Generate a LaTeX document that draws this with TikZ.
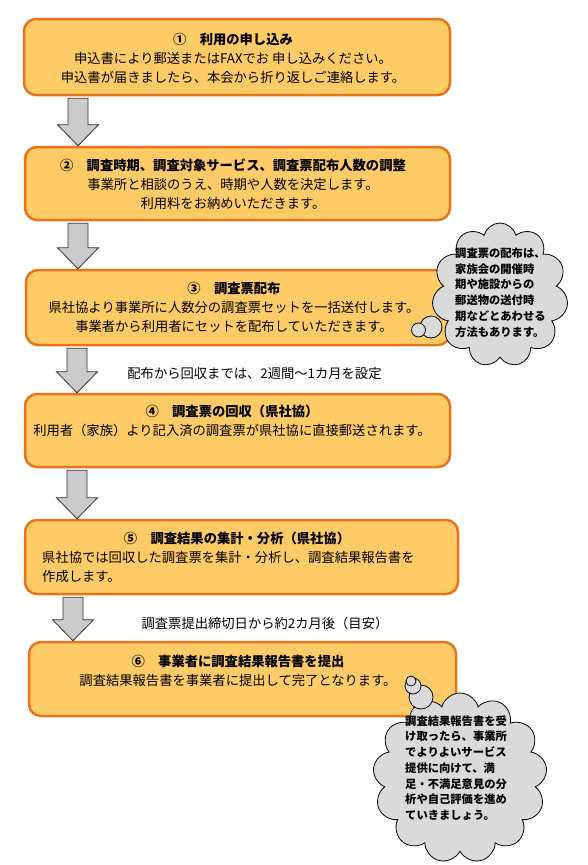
\documentclass[tikz,border=0pt]{standalone}
\usepackage{fontspec}
\setmainfont{Noto Sans CJK JP}
\usetikzlibrary{shapes.symbols,calc}
\definecolor{boxfill}{HTML}{FFCB66}
\definecolor{boxline}{HTML}{E8731A}
\definecolor{cloudfill}{HTML}{DADADA}
\definecolor{arrowfill}{HTML}{CBCBCB}
\tikzset{
  stepbox/.style={draw=boxline, fill=boxfill, line width=2.5pt, rounded corners=12pt, inner sep=0pt, rectangle},
  body/.style={font=\fontsize{13.3}{19}\selectfont, align=center, inner sep=0pt},
  bodyl/.style={font=\fontsize{13.3}{19}\selectfont, align=left, inner sep=0pt, anchor=west},
  ttl/.style={font=\bfseries\fontsize{13.3}{19}\selectfont, inner sep=0pt},
  gap/.style={font=\fontsize{13.3}{19}\selectfont, inner sep=0pt},
  note/.style={font=\bfseries\fontsize{11.3}{15.7}\selectfont, align=left, inner sep=0pt, anchor=west},
  thought/.style={cloud, draw=black, fill=cloudfill, line width=0.8pt, cloud ignores aspect, inner sep=0pt},
  bubble/.style={circle, draw=black, fill=cloudfill, line width=0.8pt, inner sep=0pt},
  blockarrow/.style={draw=black!80, fill=arrowfill, line width=0.8pt, line join=miter},
}
\newcommand\blockarr[3]{%
  \draw[blockarrow] let \p1=(#2.south), \p2=(#3.north) in
    (#1-10pt,\y1-2pt) -- (#1+10pt,\y1-2pt) -- (#1+10pt,\y2+21pt) -- (#1+20.5pt,\y2+21pt)
    -- (#1,\y2) -- (#1-20.5pt,\y2+21pt) -- (#1-10pt,\y2+21pt) -- cycle;}
\begin{document}
\begin{tikzpicture}[x=1pt,y=-1pt]
\useasboundingbox (0,0) rectangle (588,865);
% boxes
\node[stepbox, minimum width=426pt, minimum height=76pt] (b1) at (237,57) {};
\node[stepbox, minimum width=425pt, minimum height=73pt] (b2) at (237.5,183.5) {};
\node[stepbox, minimum width=424pt, minimum height=75pt] (b3) at (238,307.5) {};
\node[stepbox, minimum width=425pt, minimum height=73pt] (b4) at (237.5,430.5) {};
\node[stepbox, minimum width=433pt, minimum height=74pt] (b5) at (241.5,557) {};
\node[stepbox, minimum width=427pt, minimum height=74pt] (b6) at (242.5,679) {};
% texts in boxes
\node[body] (t1) at (233,58) {{\bfseries ①　利用の申し込み}\\申込書により郵送またはFAXでお 申し込みください。\\申込書が届きましたら、本会から折り返しご連絡します。};
\node[body] (t2) at (233,184) {{\bfseries ②　調査時期、調査対象サービス、調査票配布人数の調整}\\事業所と相談のうえ、時期や人数を決定します。\\利用料をお納めいただきます。};
\node[body] (t3) at (234,307) {{\bfseries ③　調査票配布}\\県社協より事業所に人数分の調査票セットを一括送付します。\\事業者から利用者にセットを配布していただきます。};
\node[body] (t4) at (232,420.5) {{\bfseries ④　調査票の回収（県社協）}\\利用者（家族）より記入済の調査票が県社協に直接郵送されます。};
\node[ttl] (t5a) at (237,538) {⑤　調査結果の集計・分析（県社協）};
\node[bodyl] (t5b) at (42,566.5) {県社協では回収した調査票を集計・分析し、調査結果報告書を\\作成します。};
\node[body] (t6) at (238,670.5) {{\bfseries ⑥　事業者に調査結果報告書を提出}\\調査結果報告書を事業者に提出して完了となります。};
% arrows
\blockarr{78pt}{b1}{b2}
\blockarr{78pt}{b2}{b3}
\blockarr{77pt}{b3}{b4}
\blockarr{77pt}{b4}{b5}
\blockarr{73pt}{b5}{b6}
% gap labels
\node[gap] (g1) at (254.5,373) {配布から回収までは、2週間〜1カ月を設定};
\node[gap] (g2) at (265,623) {調査票提出締切日から約2カ月後（目安）};
% cloud 1
\node[thought, cloud puffs=11, minimum width=136pt, minimum height=144pt] (c1) at (500,295) {};
\node[bubble, minimum size=22pt] (c1b) at (431,327) {};
\node[bubble, minimum size=14pt] (c1a) at (418.5,330) {};
\node[note] (n1) at (455,292.5) {調査票の配布は、\\家族会の開催時\\期や施設からの\\郵送物の送付時\\期などとあわせる\\方法もあります。};
% cloud 2
\node[thought, cloud puffs=13, minimum width=174pt, minimum height=170pt] (c2) at (460,778) {};
\node[bubble, minimum size=24pt] (c2c) at (421,697) {};
\node[bubble, minimum size=16pt] (c2b) at (413,686) {};
\node[bubble, minimum size=10pt] (c2a) at (411,681) {};
\node[note] (n2) at (405,768) {調査結果報告書を受\\け取ったら、事業所\\でよりよいサービス\\提供に向けて、満\\足・不満足意見の分\\析や自己評価を進め\\ていきましょう。};
\end{tikzpicture}
\end{document}
